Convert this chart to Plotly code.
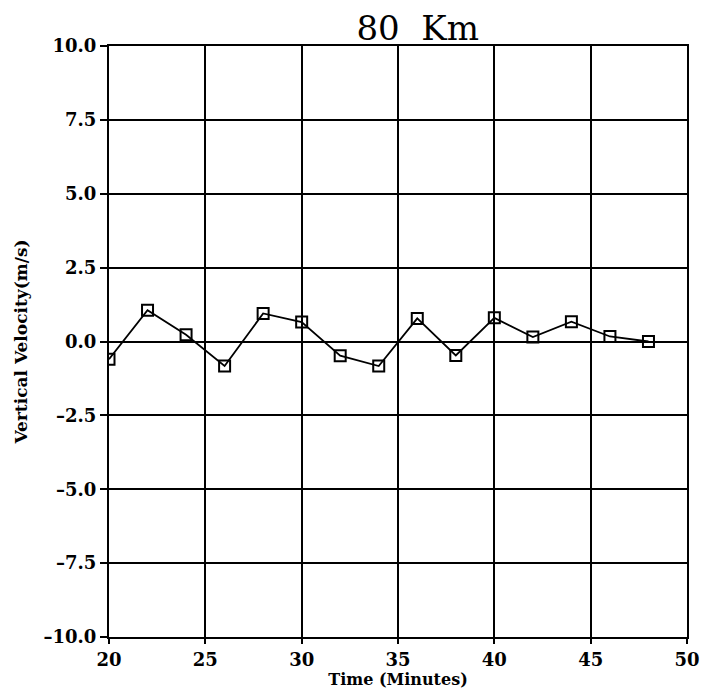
import plotly.graph_objects as go

time_min = [20, 22, 24, 26, 28, 30, 32, 34, 36, 38, 40, 42, 44, 46, 48]
velocity = [-0.60, 1.06, 0.23, -0.83, 0.95, 0.66, -0.48, -0.83, 0.78, -0.47, 0.80, 0.15, 0.67, 0.17, 0.0]
y_ticks = [-10, -7.5, -5, -2.5, 0, 2.5, 5, 7.5, 10]
y_tick_labels = ["\u201310.0", "\u20137.5", "\u20135.0", "\u20132.5", "0.0", "2.5", "5.0", "7.5", "10.0"]
x_ticks = [20, 25, 30, 35, 40, 45, 50]

fig = go.Figure()
fig.add_trace(go.Scatter(
    x=time_min, y=velocity, mode="lines+markers",
    line=dict(color="black", width=1.8),
    marker=dict(symbol="square-open", size=11, color="black", line=dict(width=2)),
    showlegend=False,
))

tick_font = dict(family="DejaVu Serif", size=18, color="black", weight="bold")
title_font = dict(family="DejaVu Serif", size=16, color="black", weight="bold")
fig.update_layout(
    width=704, height=686,
    margin=dict(l=95, r=16, t=38, b=52),
    paper_bgcolor="white", plot_bgcolor="white",
    title=dict(text="80&nbsp;&nbsp;Km", x=0.582, xanchor="center", y=0.971, yanchor="middle",
               font=dict(family="DejaVu Serif", size=34, color="black")),
)
fig.update_xaxes(
    range=[20, 50], tickvals=x_ticks, ticktext=[str(v) for v in x_ticks],
    showgrid=True, gridcolor="black", gridwidth=1.8,
    showline=True, linecolor="black", linewidth=2, mirror=True,
    ticks="outside", ticklen=5, tickcolor="black", tickwidth=1.8,
    tickfont=tick_font, zeroline=False,
    title=dict(text="Time (Minutes)", font=title_font, standoff=1),
)
fig.update_yaxes(
    range=[-10, 10], tickvals=y_ticks, ticktext=y_tick_labels,
    showgrid=True, gridcolor="black", gridwidth=1.8,
    showline=True, linecolor="black", linewidth=2, mirror=True,
    ticks="outside", ticklen=7, tickcolor="black", tickwidth=1.8,
    tickfont=tick_font, zeroline=False,
    title=dict(text="Vertical Velocity(m/s)", font=dict(title_font, size=17), standoff=12),
)
fig.write_html("out.html")
